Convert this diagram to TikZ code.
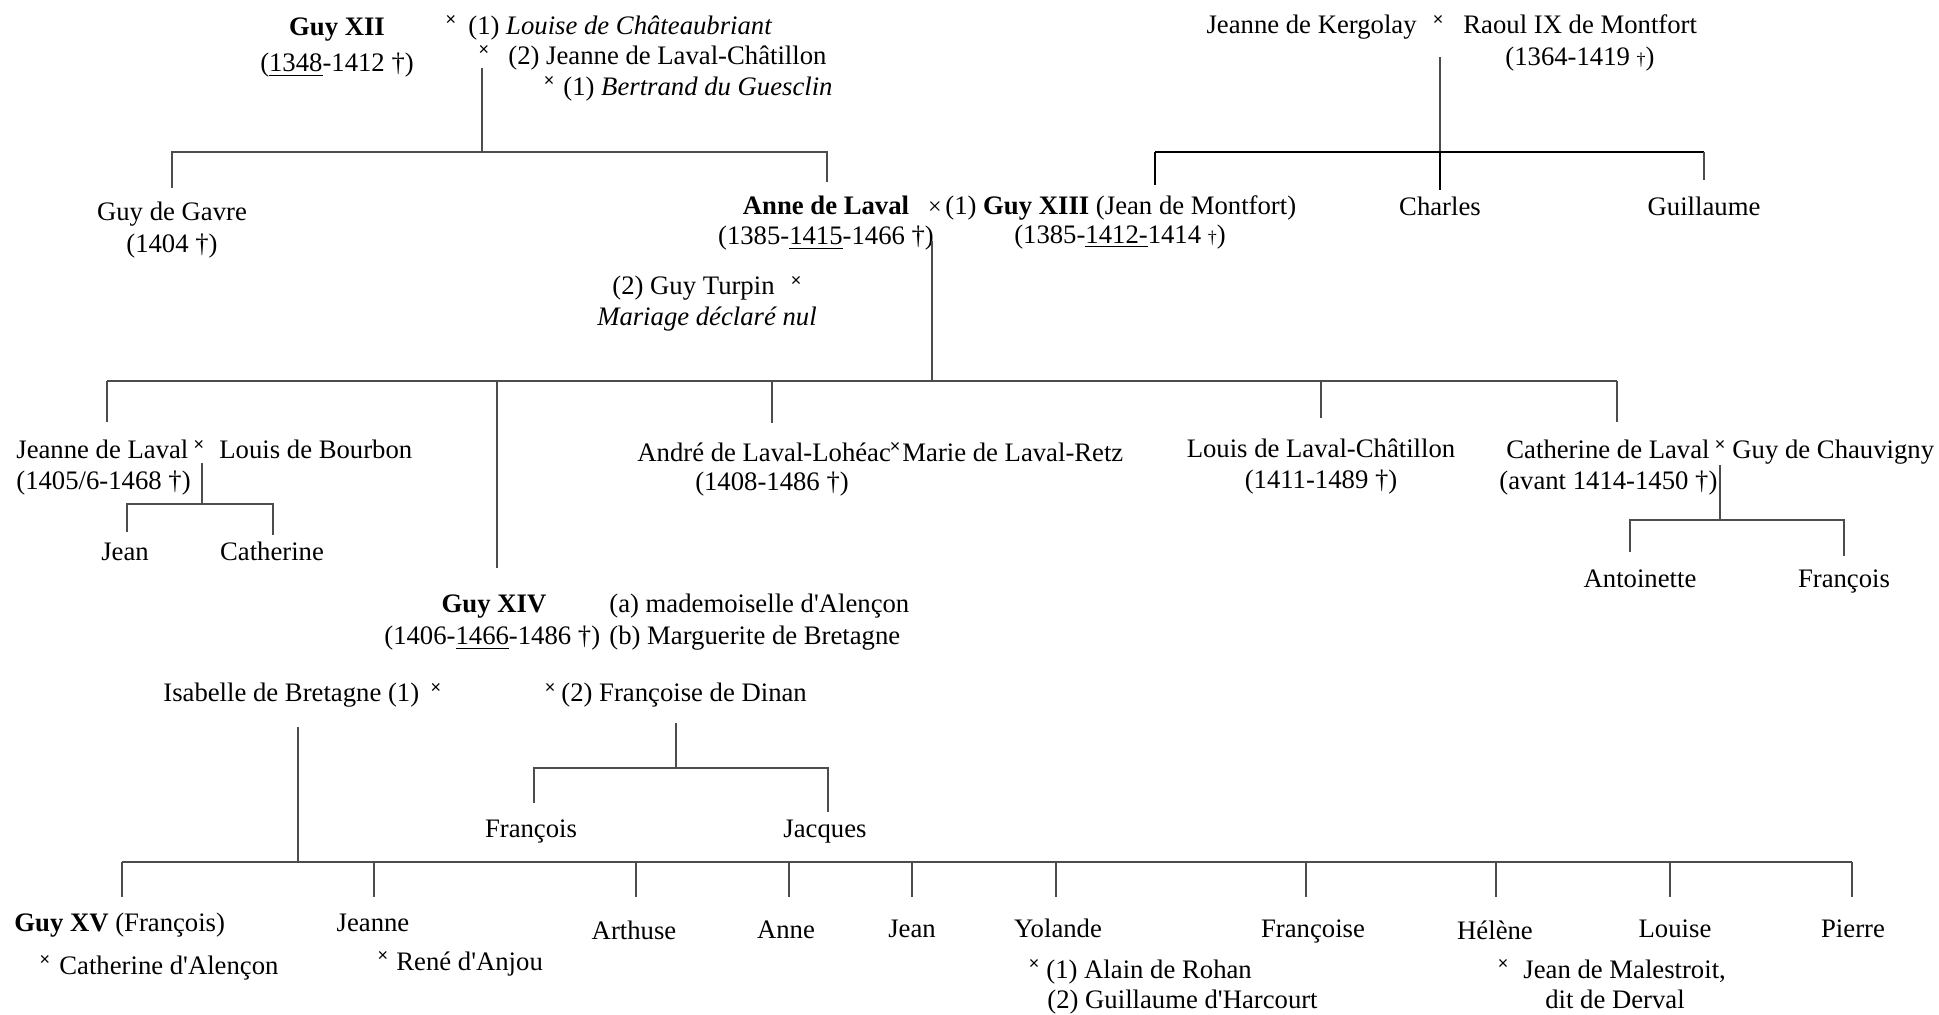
\documentclass[tikz,border=0pt]{standalone}
\usepackage{fontspec}
\setmainfont{Liberation Serif}[Ligatures=TeXOff]
\newfontfamily\xsans{Liberation Sans}
\begin{document}
\begin{tikzpicture}[x=0.5pt,y=-0.5pt,
  txt/.style={inner sep=0pt, font=\fontsize{13.35}{16}\selectfont},
  lw/.style={txt, anchor=base west},
  le/.style={txt, anchor=base east},
  lc/.style={txt, anchor=base},
  mx/.style={inner sep=0pt, font=\xsans\fontsize{9}{9}\selectfont},
  mxbig/.style={inner sep=0pt, font=\fontsize{12}{12}\selectfont},
  ln/.style={draw=black!70, line width=0.55pt},
  lnb/.style={draw=black, line width=1.1pt}]
\useasboundingbox (0,0) rectangle (1939,1015);
\fill[white] (0,0) rectangle (1939,1015);

% ---- Guy XII
\node[lc] (gxii) at (337,36) {\textbf{Guy XII}};
\node[lc] (gxiid) at (337,72) {(\underline{1348}-1412 †)};
\node[mx] (m1) at (451,21) {×};
\node[lw] (louise) at (468,35) {(1) \textit{Louise de Châteaubriant}};
\node[mx] (m2) at (484,51) {×};
\node[lw] (jlc) at (508,65) {(2) Jeanne de Laval-Châtillon};
\node[mx] (m3) at (549,82) {×};
\node[lw] (bdg) at (563,96) {(1) \textit{Bertrand du Guesclin}};

\node[lc] (gavre) at (172,221) {Guy de Gavre};
\node[lc] (gavred) at (172,253) {(1404 †)};
\node[lc] (anne) at (826,215) {\textbf{Anne de Laval}};
\node[lc] (anned) at (826,245) {(1385-\underline{1415}-1466 †)};
\node[mxbig] (m4) at (935,208) {×};
\node[lw] (gxiii) at (945,215) {(1) \textbf{Guy XIII} (Jean de Montfort)};
\node[lc] (gxiiid) at (1120,244) {(1385-\underline{1412-}1414 {\small †})};

% ---- Montfort
\node[le] (kerg) at (1417,34) {Jeanne de Kergolay};
\node[mx] (m5) at (1438,21) {×};
\node[lw] (raoul) at (1463,34) {Raoul IX de Montfort};
\node[lc] (raould) at (1580,66) {(1364-1419 {\small †})};
\node[lc] (charles) at (1440,216) {Charles};
\node[lc] (guill) at (1704,216) {Guillaume};

% ---- Turpin
\node[le] (turpin) at (775,295) {(2) Guy Turpin};
\node[mx] (m6) at (796,282) {×};
\node[lc] (nul) at (707,326) {\textit{Mariage déclaré nul}};

% ---- children of Anne
\node[lw] (jdl) at (16,459) {Jeanne de Laval};
\node[mx] (m7) at (199,445) {×};
\node[lw] (bourbon) at (219,459) {Louis de Bourbon};
\node[lw] (jdld) at (16,490) {(1405/6-1468 †)};
\node[lc] (jean1) at (125,561) {Jean};
\node[lc] (cath1) at (272,561) {Catherine};

\node[lw] (andre) at (637,462) {André de Laval-Lohéac};
\node[mx] (m8) at (895,447) {×};
\node[lw] (marie) at (902,462) {Marie de Laval-Retz};
\node[lc] (andred) at (772,491) {(1408-1486 †)};

\node[lc] (louis) at (1321,458) {Louis de Laval-Châtillon};
\node[lc] (louisd) at (1321,489) {(1411-1489 †)};

\node[lw] (cdl) at (1506,459) {Catherine de Laval};
\node[mx] (m9) at (1720,445) {×};
\node[lw] (chauv) at (1732,459) {Guy de Chauvigny};
\node[lw] (cdld) at (1499,490) {(avant 1414-1450 †)};
\node[lc] (antoi) at (1640,588) {Antoinette};
\node[lc] (franc1) at (1844,588) {François};

% ---- Guy XIV
\node[lc] (gxiv) at (494,613) {\textbf{Guy XIV}};
\node[lw] (gxivd) at (384,645) {(1406-\underline{1466}-1486 †)};
\node[lw] (alen) at (609,613) {(a) mademoiselle d'Alençon};
\node[lw] (marg) at (609,645) {(b) Marguerite de Bretagne};
\node[lw] (isab) at (163,702) {Isabelle de Bretagne (1)};
\node[mx] (m10) at (436,688) {×};
\node[mx] (m11) at (550,688) {×};
\node[lw] (dinan) at (561,702) {(2) Françoise de Dinan};
\node[lc] (franc2) at (531,837) {François};
\node[lc] (jacq) at (825,837) {Jacques};

% ---- Guy XIV's children
\node[lw] (gxv) at (14,931) {\textbf{Guy XV} (François)};
\node[mx] (m12) at (45,960) {×};
\node[lw] (calen) at (59,974) {Catherine d'Alençon};
\node[lc] (jeanne2) at (373,931) {Jeanne};
\node[mx] (m13) at (383,956) {×};
\node[lw] (rene) at (396,970) {René d'Anjou};
\node[lc] (arth) at (634,939) {Arthuse};
\node[lc] (anne2) at (786,938) {Anne};
\node[lc] (jean2) at (912,937) {Jean};
\node[lc] (yol) at (1058,937) {Yolande};
\node[lc] (franc3) at (1313,937) {Françoise};
\node[lc] (helene) at (1495,939) {Hélène};
\node[lc] (louise2) at (1675,937) {Louise};
\node[lc] (pierre) at (1853,937) {Pierre};
\node[mx] (m14) at (1034,964) {×};
\node[lw] (rohan) at (1046,978) {(1) Alain de Rohan};
\node[lw] (harc) at (1047,1008) {(2) Guillaume d'Harcourt};
\node[mx] (m15) at (1503,964) {×};
\node[lw] (male) at (1523,978) {Jean de Malestroit,};
\node[lc] (derval) at (1615,1008) {dit de Derval};

% ---- connectors
% Guy XII family
\coordinate (p1) at (482,68);
\coordinate (b1) at (482,152);
\coordinate (c1a) at (172,188);
\coordinate (c1b) at (827,182);
\draw[ln] (p1) -- (b1);
\draw[ln] (c1a) -- (c1a |- b1) -- (c1b |- b1) -- (c1b);

% Montfort family
\coordinate (p2) at (1440,57);
\coordinate (b2) at (1440,152);
\coordinate (c2a) at (1155,185);
\coordinate (c2b) at (1440,190);
\coordinate (c2c) at (1704,180);
\draw[ln] (p2) -- (b2);
\draw[lnb] (c2a |- b2) -- (c2c |- b2);
\draw[line width=0.8pt] (c2a) -- (c2a |- b2);
\draw[line width=0.8pt] (c2b) -- (b2);
\draw[ln] (c2c) -- (c2c |- b2);

% Anne's children
\coordinate (p3) at (932,241);
\coordinate (b3) at (932,381);
\coordinate (c3a) at (107,422);
\coordinate (c3b) at (497,568);
\coordinate (c3c) at (772,423);
\coordinate (c3d) at (1321,418);
\coordinate (c3e) at (1617,422);
\draw[ln] (p3) -- (b3);
\draw[ln] (c3a |- b3) -- (c3e |- b3);
\foreach \c in {c3a,c3b,c3c,c3d,c3e} \draw[ln] (\c) -- (\c |- b3);

% Jeanne de Laval's children
\coordinate (p4) at (202,463);
\coordinate (b4) at (202,504);
\coordinate (c4a) at (127,532);
\coordinate (c4b) at (273,535);
\draw[ln] (p4) -- (b4);
\draw[ln] (c4a) -- (c4a |- b4) -- (c4b |- b4) -- (c4b);

% Catherine de Laval's children
\coordinate (p5) at (1720,465);
\coordinate (b5) at (1720,520);
\coordinate (c5a) at (1630,552);
\coordinate (c5b) at (1844,556);
\draw[ln] (p5) -- (b5);
\draw[ln] (c5a) -- (c5a |- b5) -- (c5b |- b5) -- (c5b);

% Françoise de Dinan's children
\coordinate (p6) at (676,723);
\coordinate (b6) at (676,768);
\coordinate (c6a) at (534,803);
\coordinate (c6b) at (828,812);
\draw[ln] (p6) -- (b6);
\draw[ln] (c6a) -- (c6a |- b6) -- (c6b |- b6) -- (c6b);

% Isabelle de Bretagne's children
\coordinate (p7) at (298,727);
\coordinate (b7) at (298,862);
\draw[ln] (p7) -- (b7);
\coordinate (bl) at (122,862);
\coordinate (br) at (1852,862);
\draw[ln] (bl) -- (br);
\foreach \x in {122,374,636,789,912,1056,1306,1496,1670,1852}
  \draw[ln] (\x,862) -- (\x,897);
\end{tikzpicture}
\end{document}
